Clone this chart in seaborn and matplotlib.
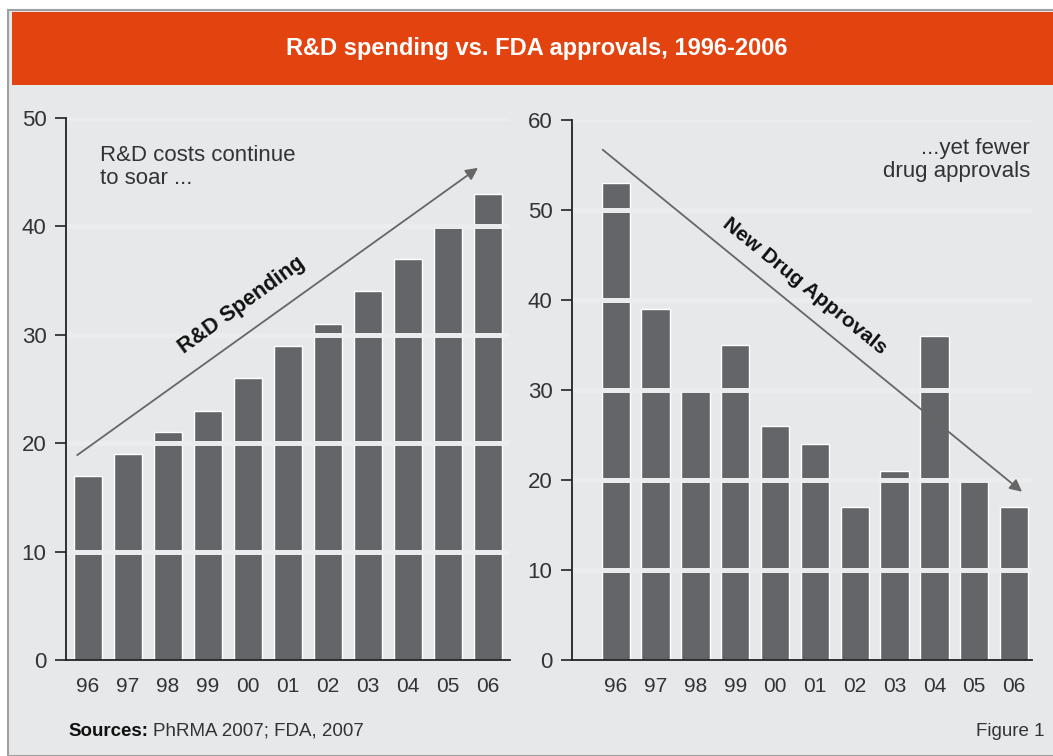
import matplotlib
matplotlib.use("Agg")
import matplotlib.pyplot as plt
import seaborn as sns
import pandas as pd
from matplotlib.patches import Rectangle

# Data
years = ["96", "97", "98", "99", "00", "01", "02", "03", "04", "05", "06"]
rd_spending = [17, 19, 21, 23, 26, 29, 31, 34, 37, 40, 43]
drug_approvals = [53, 39, 30, 35, 26, 24, 17, 21, 36, 20, 17]

bg = "#e6e8ea"
bar_color = "#636569"
orange = "#e2430f"
txt = "#333333"

sns.set_style("white")
plt.rcParams["font.family"] = ["Liberation Sans Narrow", "Liberation Sans", "DejaVu Sans"]

fig = plt.figure(figsize=(10.53, 7.56), dpi=100)
fig.patch.set_facecolor("white")

# frame + banner (behind the axes)
fig.patches.append(Rectangle((8 / 1053, 0), 1, 1 - 10 / 756, transform=fig.transFigure,
                             facecolor=bg, edgecolor="#a0a0a0", lw=1.5, zorder=-2))
fig.patches.append(Rectangle((12 / 1053, 1 - 85 / 756), 1, 73 / 756, transform=fig.transFigure,
                             facecolor=orange, edgecolor="none", zorder=-1))
fig.text(0.51, 1 - 48 / 756, "R&D spending vs. FDA approvals, 1996-2006", color="white",
         fontsize=17, fontweight="bold", ha="center", va="center")

ax1 = fig.add_axes([66 / 1053, 1 - 660 / 756, 444 / 1053, 542 / 756])
ax2 = fig.add_axes([572 / 1053, 1 - 660 / 756, 460 / 1053, 540 / 756])

df1 = pd.DataFrame({"year": years, "value": rd_spending})
df2 = pd.DataFrame({"year": years, "value": drug_approvals})

for ax, df, ymax, xlim in [(ax1, df1, 50, (-0.55, 10.55)), (ax2, df2, 60, (-1.1, 10.45))]:
    sns.barplot(data=df, x="year", y="value", color=bar_color, width=0.71,
                saturation=1, ax=ax, zorder=2)
    ax.set_facecolor("none")
    ax.set_xlim(*xlim)
    ax.set_ylim(0, ymax)
    ticks = list(range(0, ymax + 1, 10))
    ax.set_yticks(ticks)
    # light bands cutting through the bars
    for t in ticks[1:]:
        ax.axhline(t, color="#eaecee", lw=3.6, zorder=3)
    ax.set_xlabel("")
    ax.set_ylabel("")
    for s in ["top", "right"]:
        ax.spines[s].set_visible(False)
    for s in ["left", "bottom"]:
        ax.spines[s].set_color("#222222")
        ax.spines[s].set_linewidth(1.3)
        ax.spines[s].set_zorder(4)
    ax.tick_params(axis="y", direction="out", length=8, width=1.2, color="#222222",
                   labelsize=16, labelcolor=txt, pad=6, left=True)
    ax.tick_params(axis="x", length=0, labelsize=15, labelcolor=txt, pad=12)

# left annotations
ax1.annotate("", xy=(9.75, 45.4), xytext=(-0.27, 18.9),
             arrowprops=dict(arrowstyle="-|>", color="#666666", lw=1.3,
                             mutation_scale=18, shrinkA=0, shrinkB=0), zorder=5)
ax1.text(3.85, 32.7, "R&D Spending", rotation=36, fontsize=15.5, fontweight="bold",
         ha="center", va="center", color="#111111")
ax1.text(0.3, 47.5, "R&D costs continue\nto soar ...", fontsize=16, color=txt,
         ha="left", va="top", linespacing=1.1)

# right annotations
ax2.annotate("", xy=(10.2, 18.7), xytext=(-0.33, 56.7),
             arrowprops=dict(arrowstyle="-|>", color="#666666", lw=1.3,
                             mutation_scale=18, shrinkA=0, shrinkB=0), zorder=5)
ax2.text(4.75, 41.5, "New Drug Approvals", rotation=-39, fontsize=15, fontweight="bold",
         ha="center", va="center", color="#111111")
ax2.text(10.4, 58, "...yet fewer\ndrug approvals", fontsize=16, color=txt,
         ha="right", va="top", linespacing=1.1)

# footer
fig.text(68 / 1053, 1 - 731 / 756, "Sources:", fontsize=13.5, fontweight="bold",
         color="#111111", ha="left", va="center")
fig.text(153 / 1053, 1 - 731 / 756, "PhRMA 2007; FDA, 2007", fontsize=13.5,
         color=txt, ha="left", va="center")
fig.text(1045 / 1053, 1 - 731 / 756, "Figure 1", fontsize=13.5, color=txt,
         ha="right", va="center")

fig.savefig("out.png", dpi=100, facecolor=fig.get_facecolor())
